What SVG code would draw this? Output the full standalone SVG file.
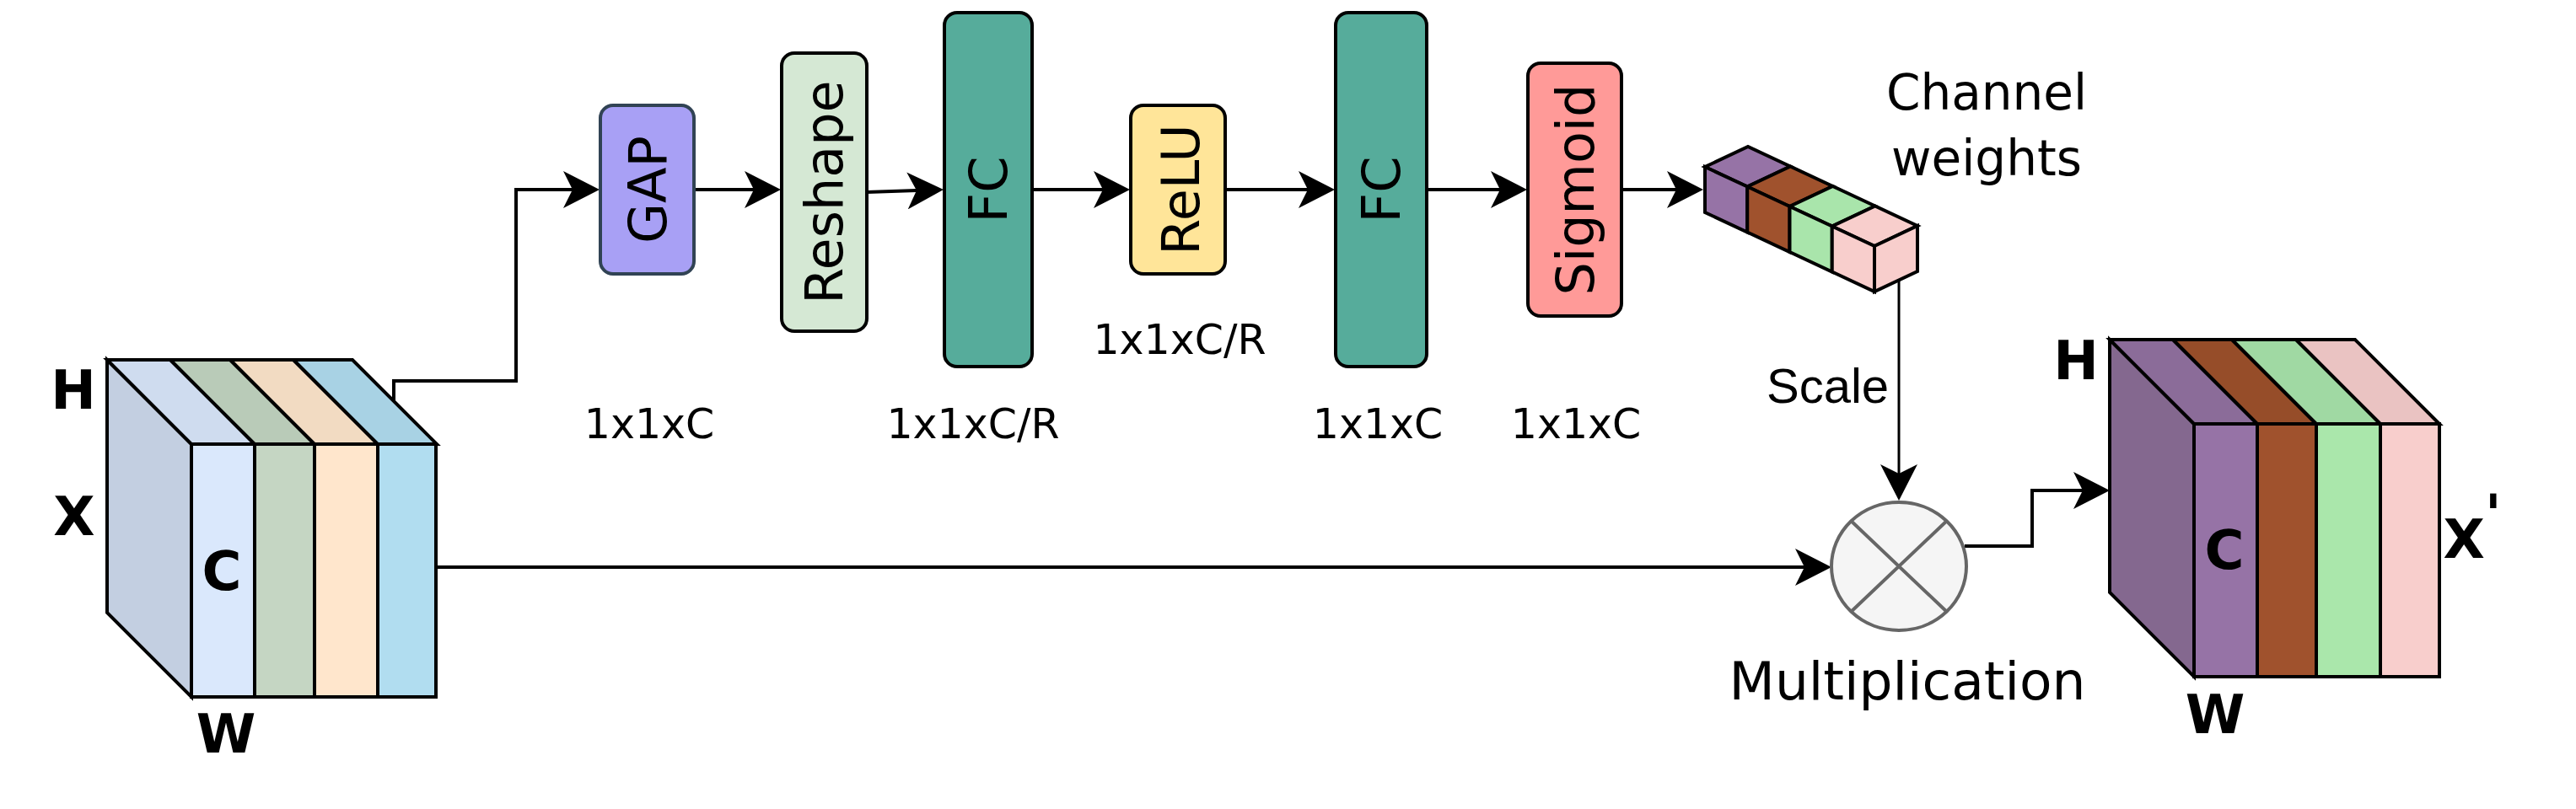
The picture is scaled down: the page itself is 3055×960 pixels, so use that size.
<svg xmlns="http://www.w3.org/2000/svg" width="3055" height="960" viewBox="0 0 3055 960">
<style>
.ln{fill:none;stroke:#000;stroke-width:4}
.ed{stroke:#000;stroke-width:4;stroke-linejoin:miter}
.box{stroke:#000;stroke-width:4}
.lbl{font-family:"DejaVu Sans",sans-serif;font-size:62px;fill:#000}
.dim{font-family:"DejaVu Sans",sans-serif;font-size:49px;fill:#000;text-anchor:middle}
.bold{font-family:"DejaVu Sans",sans-serif;font-weight:bold;font-size:64px;fill:#000;text-anchor:middle}
.txt{font-family:"DejaVu Sans",sans-serif;fill:#000}
</style>
<defs>
<marker id="arr" markerUnits="userSpaceOnUse" markerWidth="44" markerHeight="44" viewBox="0 0 44 44" refX="11" refY="22" orient="auto">
<path d="M0,0 L43,22 L0,44 L11,22 Z" fill="#000"/>
</marker>
</defs>
<rect width="3055" height="960" fill="#fff"/>

<g id="connectors">
<path class="ln" d="M467,477 V452 H612 V225 H679" marker-end="url(#arr)"/>
<path class="ln" d="M823,225 H894" marker-end="url(#arr)"/>
<path class="ln" d="M1028,228 L1087,226" marker-end="url(#arr)"/>
<path class="ln" d="M1223,225 H1308" marker-end="url(#arr)"/>
<path class="ln" d="M1453,225 H1551" marker-end="url(#arr)"/>
<path class="ln" d="M1692,225 H1779" marker-end="url(#arr)"/>
<path class="ln" d="M1923,225 H1988" marker-end="url(#arr)"/>
<path class="ln" style="stroke-width:3" d="M2252,333 V562" marker-end="url(#arr)"/>
<path class="ln" d="M517,673 H2140" marker-end="url(#arr)"/>
<path class="ln" d="M2330,648 H2410 V582 H2470" marker-end="url(#arr)"/>
</g>

<g id="input-cube">
<polygon class="ed" fill="#c3cfe1" points="127,427 227,527 227,827 127,727"/>
<polygon class="ed" fill="#cfdcef" points="127,427 202,427 302,527 227,527"/>
<polygon class="ed" fill="#b9cbb8" points="202,427 273,427 373,527 302,527"/>
<polygon class="ed" fill="#f2dbc2" points="273,427 348,427 448,527 373,527"/>
<polygon class="ed" fill="#a8d2e4" points="348,427 418,427 518,527 448,527"/>
<rect class="ed" fill="#dae8fc" x="227" y="527" width="75" height="300"/>
<rect class="ed" fill="#c5d6c3" x="302" y="527" width="71" height="300"/>
<rect class="ed" fill="#ffe6cc" x="373" y="527" width="75" height="300"/>
<rect class="ed" fill="#b1ddf0" x="448" y="527" width="69" height="300"/>
<text class="bold" x="87" y="485">H</text>
<text class="bold" x="88" y="635">X</text>
<text class="bold" x="263" y="700">C</text>
<text class="bold" x="268" y="893">W</text>
</g>

<g id="gap">
<rect x="712" y="125" width="111" height="200" rx="15" fill="#a8a0f5" stroke="#314354" stroke-width="4"/>
<text class="lbl" transform="translate(768,225) rotate(-90)" text-anchor="middle" dominant-baseline="central">GAP</text>
<text class="dim" x="770" y="520">1x1xC</text>
</g>

<g id="reshape">
<rect class="box" x="927" y="63" width="101" height="330" rx="15" fill="#d5e8d4"/>
<text class="lbl" transform="translate(977,228) rotate(-90)" text-anchor="middle" dominant-baseline="central">Reshape</text>
</g>

<g id="fc1">
<rect class="box" x="1120" y="15" width="104" height="420" rx="15" fill="#56ac9b"/>
<text class="lbl" transform="translate(1172,225) rotate(-90)" text-anchor="middle" dominant-baseline="central">FC</text>
<text class="dim" x="1154" y="520">1x1xC/R</text>
</g>

<g id="relu">
<rect class="box" x="1341" y="125" width="112" height="200" rx="15" fill="#ffe599"/>
<text class="lbl" transform="translate(1400,225) rotate(-90)" text-anchor="middle" dominant-baseline="central">ReLU</text>
<text class="dim" x="1399" y="420">1x1xC/R</text>
</g>

<g id="fc2">
<rect class="box" x="1584" y="15" width="108" height="420" rx="15" fill="#56ac9b"/>
<text class="lbl" transform="translate(1638,225) rotate(-90)" text-anchor="middle" dominant-baseline="central">FC</text>
<text class="dim" x="1634" y="520">1x1xC</text>
</g>

<g id="sigmoid">
<rect class="box" x="1812" y="75" width="111" height="300" rx="15" fill="#ff9a98"/>
<text class="lbl" transform="translate(1868,225) rotate(-90)" text-anchor="middle" dominant-baseline="central">Sigmoid</text>
<text class="dim" x="1869" y="520">1x1xC</text>
</g>

<g id="channel-weights">
<polygon class="ed" fill="#9673a6" points="2022,198 2072.25,221.5 2123.25,197.5 2073,174"/>
<polygon class="ed" fill="#a0522d" points="2072.25,221.5 2122.5,245 2173.5,221 2123.25,197.5"/>
<polygon class="ed" fill="#a9e5ab" points="2122.5,245 2172.75,268.5 2223.75,244.5 2173.5,221"/>
<polygon class="ed" fill="#f8cecc" points="2172.75,268.5 2223,292 2274,268 2223.75,244.5"/>
<polygon class="ed" fill="#9673a6" points="2022,198 2072.25,221.5 2072.25,275.5 2022,252"/>
<polygon class="ed" fill="#a0522d" points="2072.25,221.5 2122.5,245 2122.5,299 2072.25,275.5"/>
<polygon class="ed" fill="#a9e5ab" points="2122.5,245 2172.75,268.5 2172.75,322.5 2122.5,299"/>
<polygon class="ed" fill="#f8cecc" points="2172.75,268.5 2223,292 2223,346 2172.75,322.5"/>
<polygon class="ed" fill="#f8cecc" points="2223,292 2274,268 2274,322 2223,346"/>
<text class="txt" font-size="58" text-anchor="middle"><tspan x="2356" y="130">Channel</tspan><tspan x="2356" y="208">weights</tspan></text>
<text x="2095" y="478" font-family="'Liberation Sans',Arial,sans-serif" font-size="58" fill="#000">Scale</text>
</g>

<g id="multiplication">
<ellipse cx="2252" cy="672" rx="80" ry="76" fill="#f5f5f5" stroke="#666" stroke-width="4"/>
<path d="M2195.4,618.3 L2308.6,725.7 M2308.6,618.3 L2195.4,725.7" stroke="#666" stroke-width="4"/>
<text class="txt" x="2262" y="830" font-size="63" text-anchor="middle">Multiplication</text>
</g>

<g id="output-cube">
<polygon class="ed" fill="#84688f" points="2502,403 2602,503 2602,803 2502,703"/>
<polygon class="ed" fill="#8b6c99" points="2502,403 2577,403 2677,503 2602,503"/>
<polygon class="ed" fill="#964d29" points="2577,403 2647,403 2747,503 2677,503"/>
<polygon class="ed" fill="#a0d9a3" points="2647,403 2723,403 2823,503 2747,503"/>
<polygon class="ed" fill="#eac3c2" points="2723,403 2793,403 2893,503 2823,503"/>
<rect class="ed" fill="#9673a6" x="2602" y="503" width="75" height="300"/>
<rect class="ed" fill="#a0522d" x="2677" y="503" width="70" height="300"/>
<rect class="ed" fill="#aae7ab" x="2747" y="503" width="76" height="300"/>
<rect class="ed" fill="#f8cecc" x="2823" y="503" width="70" height="300"/>
<text class="bold" x="2462" y="450">H</text>
<text class="bold" x="2638" y="675">C</text>
<text class="bold" x="2932" y="662">X<tspan dy="-30">'</tspan></text>
<text class="bold" x="2627" y="870">W</text>
</g>
</svg>
